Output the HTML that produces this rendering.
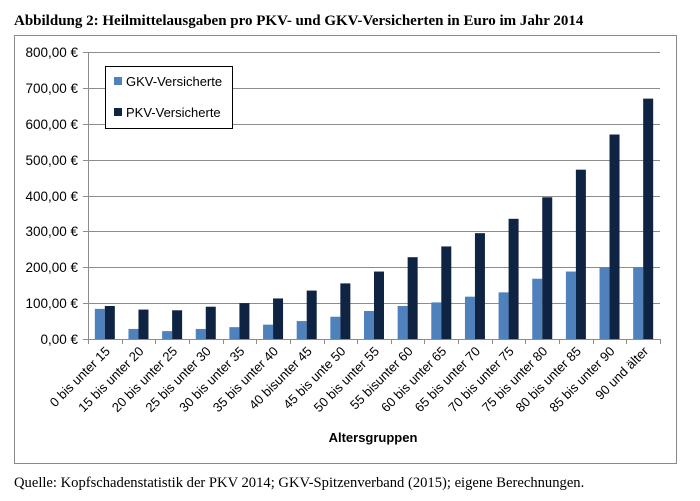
<!DOCTYPE html>
<html><head><meta charset="utf-8"><style>
body{margin:0;background:#fff;width:700px;height:501px;overflow:hidden}
svg{display:block}
</style></head><body>
<svg width="700" height="501" xmlns="http://www.w3.org/2000/svg">
<text x="14" y="25" font-family="Liberation Serif, serif" font-weight="bold" font-size="15" fill="#000">Abbildung 2: Heilmittelausgaben pro PKV- und GKV-Versicherten in Euro im Jahr 2014</text>
<rect x="14.5" y="35.5" width="662" height="428" fill="#fff" stroke="#8a8a8a" stroke-width="1"/>
<g id="grid" stroke="#8c8c8c" stroke-width="1"></g>
<g id="bars"></g>
<g id="labels" font-family="Liberation Sans, sans-serif" font-size="13" fill="#000"></g>
<rect x="105.5" y="66.5" width="127" height="62" fill="#fff" stroke="#000" stroke-width="1"/>
<rect x="114" y="77" width="8" height="8" fill="#4f81bd"/>
<text x="126" y="86" font-family="Liberation Sans, sans-serif" font-size="13">GKV-Versicherte</text>
<rect x="114" y="108" width="8" height="8" fill="#0f2342"/>
<text x="126" y="117" font-family="Liberation Sans, sans-serif" font-size="13">PKV-Versicherte</text>
<text x="373" y="442" text-anchor="middle" font-family="Liberation Sans, sans-serif" font-weight="bold" font-size="13">Altersgruppen</text>
<text x="14" y="487" font-family="Liberation Serif, serif" font-size="14.6">Quelle: Kopfschadenstatistik der PKV 2014; GKV-Spitzenverband (2015); eigene Berechnungen.</text>
</svg>
<script>
const ns="http://www.w3.org/2000/svg";
function el(p,t,a,txt){const e=document.createElementNS(ns,t);for(const k in a)e.setAttribute(k,a[k]);if(txt!==undefined)e.textContent=txt;p.appendChild(e);return e;}
const g=document.getElementById('grid'),b=document.getElementById('bars'),l=document.getElementById('labels');
const y0=339,ppu=287/800,L=88,R=660,cw=(R-L)/17;
for(let v=0;v<=800;v+=100){const y=Math.round(y0-v*ppu)+0.5;
 if(v>0)el(g,'line',{x1:L,x2:R,y1:y,y2:y});
 el(g,'line',{x1:83,x2:L,y1:y,y2:y});
 el(l,'text',{x:78,y:y+4.5,'text-anchor':'end','font-size':'13.5'},v.toFixed(2).replace('.',',')+' €');}
el(g,'line',{x1:L+.5,x2:L+.5,y1:52,y2:339});
el(g,'line',{x1:L,x2:R,y1:339.5,y2:339.5});
for(let i=0;i<=17;i++){const x=Math.round(L+i*cw)+.5;el(g,'line',{x1:x,x2:x,y1:339,y2:344});}
const gkv=[84,28,22,28,33,40,50,62,78,92,102,118,130,168,188,200,200];
const pkv=[92,82,80,90,100,113,135,155,188,228,258,295,335,395,472,570,670];
const names=["0 bis unter 15","15 bis unter 20","20 bis unter 25","25 bis unter 30","30 bis unter 35","35 bis unter 40","40 bisunter 45","45 bis unte 50","50 bis unter 55","55 bisunter 60","60 bis unter 65","65 bis unter 70","70 bis unter 75","75 bis unter 80","80 bis unter 85","85 bis unter 90","90 und älter"];
for(let i=0;i<17;i++){const c=L+i*cw+cw/2;
 el(b,'rect',{x:c-10,y:y0-gkv[i]*ppu,width:10,height:gkv[i]*ppu,fill:'#4f81bd'});
 el(b,'rect',{x:c,y:y0-pkv[i]*ppu,width:10,height:pkv[i]*ppu,fill:'#0f2342'});
 const tx=c+6,ty=352;
 el(l,'text',{x:tx,y:ty,'text-anchor':'end',transform:`rotate(-45 ${tx} ${ty})`},names[i]);}
</script>
</body></html>
